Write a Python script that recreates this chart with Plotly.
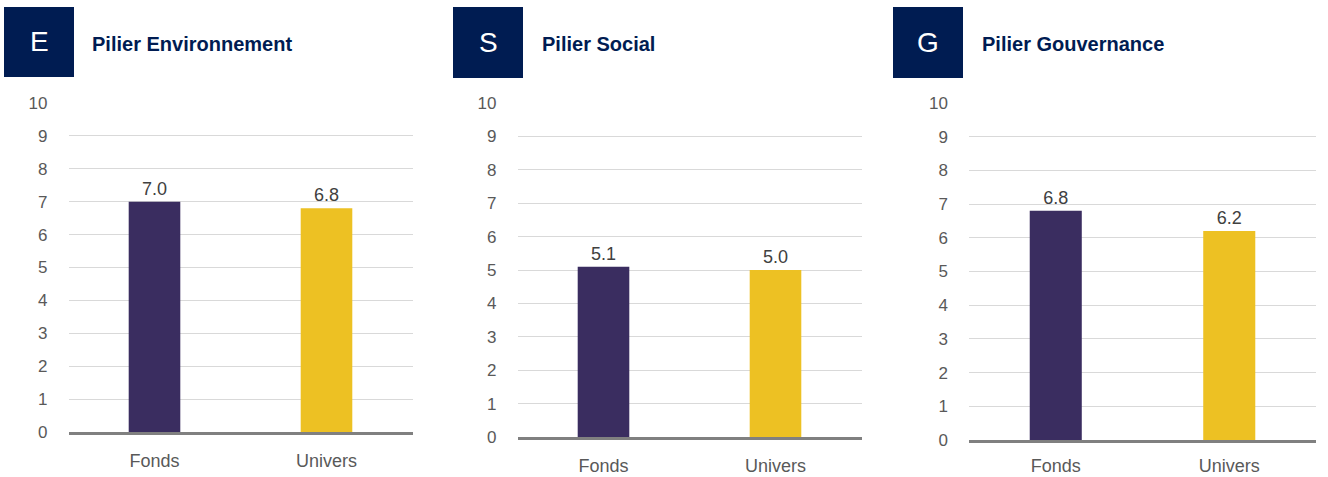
import plotly.graph_objects as go

# Scores ESG par pilier : fonds vs univers
categories = ["Fonds", "Univers"]
letters = ["E", "S", "G"]
titles = ["Pilier Environnement", "Pilier Social", "Pilier Gouvernance"]
scores_e = [7.0, 6.8]
scores_s = [5.1, 5.0]
scores_g = [6.8, 6.2]
y_ticks = list(range(0, 11))

W, H = 1328, 477
NAVY = "#001c52"
BAR_COLORS = ["#3a2d60", "#edc123"]
GRID = "#d9d9d9"
AXIS_LINE = "#808080"
TEXT_GRAY = "#595959"

# Pixel layout of each panel: plot area (x0, x1, ytop, ybottom), header block,
# title start and gap between the axis line and the category labels
panels = [
    dict(values=scores_e, plot=(68.5, 412.5, 103, 432), box=(4, 74, 7, 77), title_x=90, cat_gap=10),
    dict(values=scores_s, plot=(517.5, 861.5, 103, 437), box=(453, 523, 7, 78), title_x=540, cat_gap=10),
    dict(values=scores_g, plot=(969, 1316, 103, 440), box=(893, 963, 7, 78), title_x=980, cat_gap=7),
]

fig = go.Figure()
layout = dict(
    width=W, height=H,
    margin=dict(l=0, r=0, t=0, b=0),
    paper_bgcolor="white", plot_bgcolor="white",
    showlegend=False,
    font=dict(family="Liberation Sans, Arial, sans-serif", color=TEXT_GRAY),
    shapes=[], annotations=[],
)

for i, (p, letter, title) in enumerate(zip(panels, letters, titles)):
    n = "" if i == 0 else str(i + 1)
    x0, x1, yt, yb = p["plot"]
    fig.add_trace(go.Bar(
        x=categories, y=p["values"],
        xaxis="x" + n, yaxis="y" + n,
        marker=dict(color=BAR_COLORS, line=dict(width=0)),
        width=0.3,
        text=[f"{v:.1f}" for v in p["values"]],
        textposition="outside",
        textfont=dict(size=18, color="#404040"),
        cliponaxis=False,
        hoverinfo="skip",
    ))
    layout["xaxis" + n] = dict(
        domain=[x0 / W, x1 / W], anchor="y" + n,
        automargin=False,
        showline=True, linewidth=3, linecolor=AXIS_LINE,
        showgrid=False, ticks="", zeroline=False,
        tickfont=dict(size=18, color=TEXT_GRAY),
        ticklabelstandoff=p["cat_gap"],
        fixedrange=True,
    )
    layout["yaxis" + n] = dict(
        domain=[1 - yb / H, 1 - yt / H], anchor="x" + n,
        automargin=False,
        range=[0, 10], tickvals=y_ticks,
        showgrid=True, gridcolor=GRID, gridwidth=1,
        zeroline=False, showline=False, ticks="",
        tickfont=dict(size=17, color=TEXT_GRAY),
        ticklabelstandoff=20,
        fixedrange=True,
    )
    bx0, bx1, by0, by1 = p["box"]
    layout["shapes"].append(dict(
        type="rect", xref="paper", yref="paper",
        x0=bx0 / W, x1=bx1 / W, y0=1 - by1 / H, y1=1 - by0 / H,
        fillcolor=NAVY, line=dict(width=0), layer="above",
    ))
    layout["annotations"].append(dict(
        text=letter, xref="paper", yref="paper",
        x=(bx0 + bx1) / 2 / W, y=1 - (by0 + by1) / 2 / H,
        xanchor="center", yanchor="middle", showarrow=False,
        font=dict(size=28, color="white", family="Liberation Sans, Arial, sans-serif"),
    ))
    layout["annotations"].append(dict(
        text=f"<b>{title}</b>", xref="paper", yref="paper",
        x=p["title_x"] / W, y=1 - 44 / H,
        xanchor="left", yanchor="middle", showarrow=False,
        font=dict(size=20, color=NAVY, family="Liberation Sans, Arial, sans-serif"),
    ))

fig.update_layout(**layout)
fig.write_html("out.html", config={"displayModeBar": False})
